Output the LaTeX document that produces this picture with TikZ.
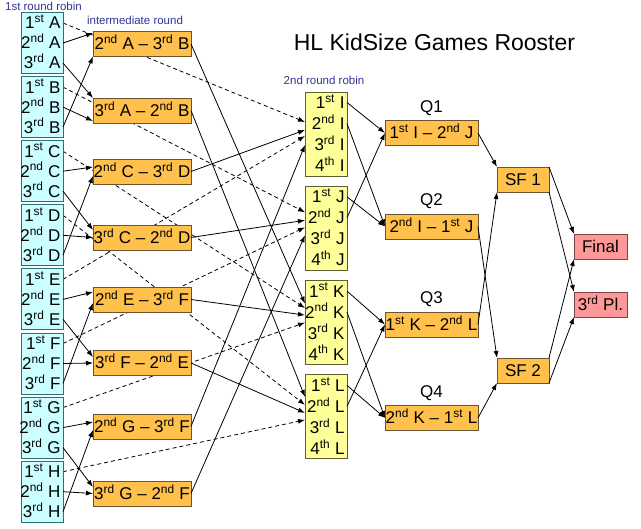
\documentclass[tikz,border=0pt]{standalone}
\usepackage{fontspec}
\setmainfont{Liberation Sans}
\newcommand*{\boxfont}{\fontsize{17}{20}\selectfont}
\newcommand*{\ordn}[1]{\textsuperscript{#1}}
\definecolor{R1}{HTML}{CCFFFF}
\definecolor{R1line}{HTML}{2B6E75}
\definecolor{M}{HTML}{FFC04C}
\definecolor{Mline}{HTML}{6B5530}
\definecolor{R2}{HTML}{FFFF99}
\definecolor{R2line}{HTML}{5E5E30}
\definecolor{P}{HTML}{FF9999}
\definecolor{Pline}{HTML}{7A4545}
\definecolor{lbl}{HTML}{333399}
\usetikzlibrary{arrows.meta}
\usetikzlibrary{positioning}
\pgfdeclarelayer{back}
\pgfsetlayers{back,main}
\tikzstyle{base}=[x=1pt, y=-1pt, inner sep=0pt, outer sep=0pt]
\tikzstyle{cybox}=[draw=R1line, fill=R1, line width=0.9pt, minimum width=42pt, minimum height=61pt]
\tikzstyle{ylbox}=[draw=R2line, fill=R2, line width=0.9pt, minimum width=42pt, minimum height=84pt]
\tikzstyle{rowtxt}=[anchor=east, inner xsep=2.5pt, font=\boxfont, text height=12pt, text depth=0pt]
\tikzstyle{mbox}=[draw=Mline, fill=M, line width=0.9pt, minimum height=25pt, font=\boxfont, text height=12pt, text depth=0pt]
\tikzstyle{pbox}=[mbox, draw=Pline, fill=P]
\tikzstyle{roundlbl}=[text=lbl, font=\fontsize{11.5}{13}\selectfont, text height=8pt, text depth=0pt]
\tikzstyle{wline}=[line width=0.8pt, -{Latex[length=7pt,width=5pt]}]
\tikzstyle{dline}=[wline, dash pattern=on 4pt off 3pt]

\begin{document}
\begin{tikzpicture}[base]
    \useasboundingbox (0,0) rectangle (641,529);
    \node [roundlbl] (lblA) at (43.5,7) {1st round robin};
    \node [roundlbl] (lblM) at (135,21) {intermediate round};
    \node [roundlbl] (lblR) at (324,81) {2nd round robin};
    \node [font=\fontsize{23}{26}\selectfont] (title) at (434.5,42) {HL KidSize Games Rooster};
    \foreach \g [count=\i from 0] in {A,B,C,D,E,F,G,H} {
        \node [cybox] (grp\g) at (42, 43 + 64.1*\i) {};
        \foreach \r/\s [count=\k from -1] in {1/st,2/nd,3/rd}
            \node [rowtxt] (\g\r) at (63, 43 + 64.1*\i + 20*\k) {\r\ordn{\s} \g};
    }
    \foreach \g [count=\i from 0] in {I,J,K,L} {
        \node [ylbox] (grp\g) at (326, 134 + 94.3*\i) {};
        \foreach \r/\s [count=\k from 0] in {1/st,2/nd,3/rd,4/th}
            \node [rowtxt] (\g\r) at (347, 134 + 94.3*\i + 21*\k - 31.5) {\r\ordn{\s} \g};
    }
    \node [mbox, minimum width=98pt] (m1) at (142,44) {2\ordn{nd} A -- 3\ordn{rd} B};
    \node [mbox, minimum width=98pt] (m2) at (142,110.5) {3\ordn{rd} A -- 2\ordn{nd} B};
    \node [mbox, minimum width=98pt] (m3) at (142,171.5) {2\ordn{nd} C -- 3\ordn{rd} D};
    \node [mbox, minimum width=98pt] (m4) at (142,237.5) {3\ordn{rd} C -- 2\ordn{nd} D};
    \node [mbox, minimum width=98pt] (m5) at (142,299.5) {2\ordn{nd} E -- 3\ordn{rd} F};
    \node [mbox, minimum width=98pt] (m6) at (142,363) {3\ordn{rd} F -- 2\ordn{nd} E};
    \node [mbox, minimum width=98pt] (m7) at (142,426.5) {2\ordn{nd} G -- 3\ordn{rd} F};
    \node [mbox, minimum width=98pt] (m8) at (142,493.5) {3\ordn{rd} G -- 2\ordn{nd} F};
    \node [mbox, minimum width=93pt, label={[font=\boxfont, label distance=5pt]above:Q1}] (Q1) at (431.5,133) {1\ordn{st} I -- 2\ordn{nd} J};
    \node [mbox, minimum width=93pt, label={[font=\boxfont, label distance=5pt]above:Q2}] (Q2) at (431.5,226.5) {2\ordn{nd} I -- 1\ordn{st} J};
    \node [mbox, minimum width=93pt, label={[font=\boxfont, label distance=5pt]above:Q3}] (Q3) at (431.5,324.5) {1\ordn{st} K -- 2\ordn{nd} L};
    \node [mbox, minimum width=93pt, label={[font=\boxfont, label distance=5pt]above:Q4}] (Q4) at (431.5,418) {2\ordn{nd} K -- 1\ordn{st} L};
    \node [mbox, minimum width=52pt] (SF1) at (523,179.5) {SF 1};
    \node [mbox, minimum width=52pt] (SF2) at (523,370.5) {SF 2};
    \node [pbox, minimum width=53pt] (final) at (600.5,246.5) {Final};
    \node [pbox, minimum width=53pt] (third) at (600.5,304.5) {3\ordn{rd} Pl.};

    \begin{pgfonlayer}{back}
        \draw [dline] (A1.east) -- ([yshift=12pt]grpI.west);
        \draw [dline] (E1.east) -- ([yshift=-2pt]grpI.west);
        \draw [dline] (B1.east) -- ([yshift=16pt]grpJ.west);
        \draw [dline] (F1.east) -- ([yshift=1pt]grpJ.west);
        \draw [dline] (C1.east) -- ([yshift=14.5pt]grpK.west);
        \draw [dline] (G1.east) -- (grpK.west);
        \draw [dline] (D1.east) -- ([yshift=12pt]grpL.west);
        \draw [dline] (H1.east) -- ([yshift=-3pt]grpL.west);
    \end{pgfonlayer}

    \draw [wline] (A2.east) -- ([yshift=-1.5pt]m1.north west);
    \draw [wline] (B3.east) -- (m1.south west);
    \draw [wline] (A3.east) -- (m2.north west);
    \draw [wline] (B2.east) -- ([yshift=2pt]m2.south west);
    \draw [wline] (C2.east) -- ([yshift=4.5pt]m3.west);
    \draw [wline] (D3.east) -- ([yshift=-4.5pt]m3.west);
    \draw [wline] (C3.east) -- ([yshift=7.5pt]m4.west);
    \draw [wline] (D2.east) -- (m4.west);
    \draw [wline] (E2.east) -- ([yshift=7.5pt]m5.west);
    \draw [wline] (F3.east) -- ([yshift=-3.5pt]m5.west);
    \draw [wline] (E3.east) -- ([yshift=6pt]m6.west);
    \draw [wline] (F2.east) -- (m6.west);
    \draw [wline] (G2.east) -- ([yshift=4.5pt]m7.west);
    \draw [wline] (H3.east) -- ([yshift=-3.5pt]m7.west);
    \draw [wline] (G3.east) -- ([yshift=6.5pt]m8.west);
    \draw [wline] (H2.east) -- (m8.west);

    \draw [wline] (m3.east) -- ([yshift=4pt]grpI.west);
    \draw [wline] (m7.east) -- ([yshift=-11pt]grpI.west);
    \draw [wline] (m4.east) -- ([yshift=8pt]grpJ.west);
    \draw [wline] (m8.east) -- ([yshift=-7pt]grpJ.west);
    \draw [wline] (m1.east) -- ([yshift=19pt]grpK.west);
    \draw [wline] (m5.east) -- ([yshift=7.5pt]grpK.west);
    \draw [wline] (m2.east) -- ([yshift=20pt]grpL.west);
    \draw [wline] (m6.east) -- ([yshift=4pt]grpL.west);

    \draw [wline] (I1.east) -- (Q1.west);
    \draw [wline] (J2.east) -- (Q1.west);
    \draw [wline] (I2.east) -- (Q2.west);
    \draw [wline] (J1.east) -- (Q2.west);
    \draw [wline] (K1.east) -- (Q3.west);
    \draw [wline] (L2.east) -- (Q3.west);
    \draw [wline] (K2.east) -- (Q4.west);
    \draw [wline] (L1.east) -- (Q4.west);

    \draw [wline] (Q1.east) -- (SF1.north west);
    \draw [wline] (Q3.east) -- (SF1.south west);
    \draw [wline] (Q2.east) -- (SF2.north west);
    \draw [wline] (Q4.east) -- (SF2.south west);
    \draw [wline] (SF1.north east) -- (final.north west);
    \draw [wline] (SF1.south east) -- (third.north west);
    \draw [wline] (SF2.north east) -- (final.south west);
    \draw [wline] (SF2.south east) -- (third.south west);
\end{tikzpicture}
\end{document}
